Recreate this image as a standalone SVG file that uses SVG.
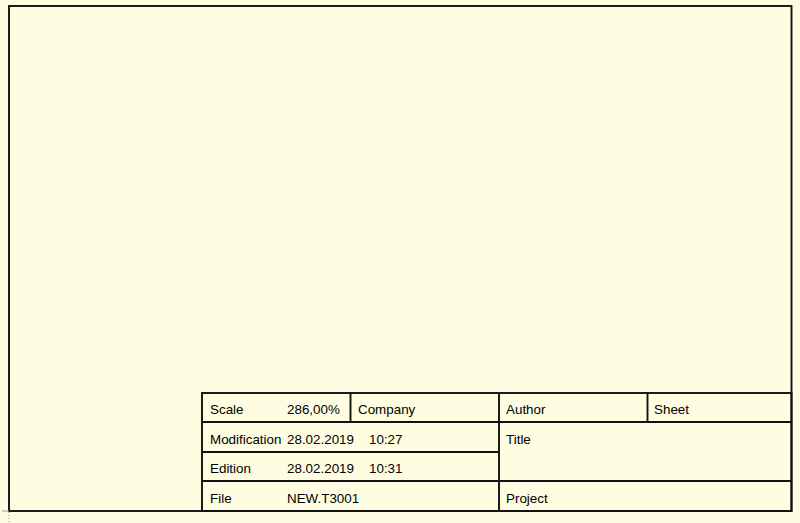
<svg xmlns="http://www.w3.org/2000/svg" width="800" height="523" viewBox="0 0 800 523">
<style>
.ln{stroke:#111;stroke-width:1.9;fill:none}
.t{font-family:"Liberation Sans",Arial,sans-serif;font-size:13.4px;fill:#000}
</style>
<rect width="800" height="523" fill="#FFFDE1"/>
<g id="frame">
<rect x="9" y="6" width="782.5" height="505" class="ln" stroke-width="2"/>
<line x1="2" y1="511" x2="9" y2="511" stroke="#999" stroke-width="1"/>
<line x1="9" y1="512" x2="9" y2="523" stroke="#888" stroke-width="1" stroke-dasharray="1,2"/>
</g>
<g id="titleblock">
<rect x="202" y="393" width="589.5" height="118" class="ln"/>
<line x1="202" y1="422" x2="791.5" y2="422" class="ln"/>
<line x1="202" y1="452" x2="499" y2="452" class="ln"/>
<line x1="202" y1="481" x2="791.5" y2="481" class="ln"/>
<line x1="350.5" y1="393" x2="350.5" y2="422" class="ln"/>
<line x1="499" y1="393" x2="499" y2="511" class="ln"/>
<line x1="647.5" y1="393" x2="647.5" y2="422" class="ln"/>
</g>
<g id="labels">
<text class="t" x="210" y="414">Scale</text>
<text class="t" x="287" y="414">286,00%</text>
<text class="t" x="358" y="414">Company</text>
<text class="t" x="506" y="414">Author</text>
<text class="t" x="654" y="414">Sheet</text>
<text class="t" x="210" y="444">Modification</text>
<text class="t" x="287" y="444">28.02.2019</text>
<text class="t" x="369" y="444">10:27</text>
<text class="t" x="506" y="444">Title</text>
<text class="t" x="210" y="473">Edition</text>
<text class="t" x="287" y="473">28.02.2019</text>
<text class="t" x="369" y="473">10:31</text>
<text class="t" x="210" y="503">File</text>
<text class="t" x="287" y="503">NEW.T3001</text>
<text class="t" x="506" y="503">Project</text>
</g>
</svg>
